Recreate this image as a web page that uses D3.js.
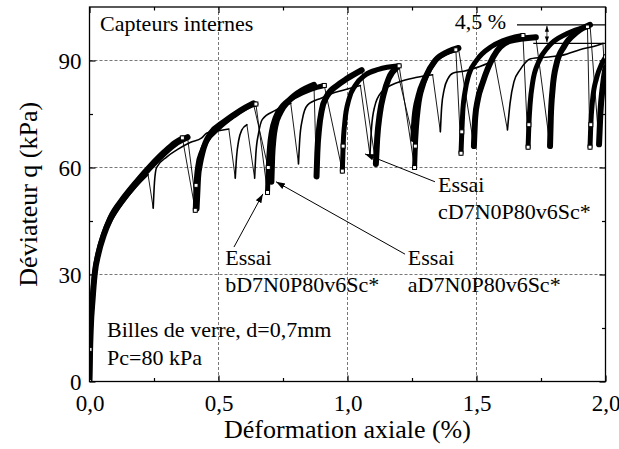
<!DOCTYPE html>
<html>
<head>
<meta charset="utf-8">
<script src="https://cdn.jsdelivr.net/npm/d3@7"></script>
<style>
  body { margin: 0; background: #fff; }
  svg { display: block; }
  text { font-family: "Liberation Serif", "Times New Roman", serif; fill: #000; }
</style>
</head>
<body>
<svg id="chart"></svg>
<script>
const width = 619
const height = 449
const marge = {top: 7, right: 13.5, bottom: 67.5, left: 89.5}

// ticks
const strainTicks = [0, 0.5, 1.0, 1.5, 2.0]
const strainMinor = [0.25, 0.75, 1.25, 1.75]
const qTicks = [0, 30, 60, 90]
const qMinor = [15, 45, 75]

// essais : chaque cycle = montée [déformation %, q kPa], puis chute jusqu'au cycle suivant
const testA = [
  [[0,0],[0.002,8],[0.005,15],[0.012,23],[0.02,30],[0.035,36],[0.055,41],[0.08,45.5],[0.13,51],[0.18,55.5],[0.235,60],[0.29,64],[0.34,67],[0.38,68.5]],
  [[0.415,48.5],[0.418,53],[0.421,57.3],[0.428,61],[0.437,64],[0.45,67],[0.47,69.6],[0.52,72.7],[0.585,76],[0.635,78]],
  [[0.705,56],[0.708,63],[0.713,68],[0.72,71.5],[0.74,75.5],[0.77,78.5],[0.81,81],[0.87,83.2]],
  [[0.88,57.5],[0.883,64],[0.89,71],[0.9,76],[0.92,80],[0.96,83],[1.0,85],[1.055,87.3]],
  [[1.11,61],[1.115,68],[1.125,75],[1.14,80.5],[1.16,85],[1.19,88]],
  [[1.255,68],[1.26,74],[1.275,80],[1.3,85],[1.34,90],[1.39,92.5],[1.43,93.5]],
  [[1.49,66],[1.495,74],[1.505,79],[1.525,84],[1.565,91],[1.63,95.5],[1.73,96.5]],
  [[1.785,66],[1.788,74],[1.795,82],[1.81,89],[1.84,94],[1.89,98],[1.94,100]],
  [[1.975,66.5],[1.98,75],[1.99,83],[2.0,88]]
]
const testB = [
  [[0,0],[0.002,9],[0.005,16],[0.012,24],[0.02,30.5],[0.035,36.5],[0.055,41.5],[0.08,46],[0.13,51.5],[0.18,56],[0.235,60.5],[0.29,64.5],[0.33,67],[0.36,68.3]],
  [[0.41,48],[0.413,55],[0.42,60.5],[0.435,64.5],[0.455,67.5],[0.5,71],[0.56,74.5],[0.62,77.2],[0.645,77.8]],
  [[0.69,53],[0.693,60],[0.698,66],[0.705,70],[0.72,74],[0.75,77.5],[0.8,80],[0.86,82],[0.91,83]],
  [[0.98,59],[0.983,66],[0.99,73],[1.005,79],[1.03,83],[1.07,86],[1.12,87.5],[1.2,88.5]],
  [[1.26,60],[1.263,66],[1.267,71],[1.275,77],[1.295,83.5],[1.33,89],[1.38,92],[1.42,93]],
  [[1.44,64],[1.443,70],[1.447,76],[1.455,81],[1.47,86],[1.5,90],[1.56,94],[1.62,96],[1.68,97]],
  [[1.70,65.7],[1.703,72],[1.708,78],[1.718,84],[1.74,89.5],[1.78,94],[1.85,97.5],[1.93,99.5]],
  [[1.94,65.7],[1.943,72],[1.95,79],[1.965,85],[1.985,89],[2.0,91]]
]
const testC = [
  [[0,0],[0.003,9],[0.008,17],[0.015,24],[0.025,30.5],[0.04,36],[0.06,41],[0.09,45.5],[0.13,50],[0.18,54.5],[0.227,58]],
  [[0.247,48.6],[0.252,56],[0.26,60],[0.3,63],[0.34,65],[0.39,67],[0.435,68.3],[0.455,69.7],[0.5,70.3],[0.54,70.8]],
  [[0.565,57],[0.57,63],[0.578,67.5],[0.59,70.5],[0.61,72]],
  [[0.64,57],[0.645,64],[0.655,69.5],[0.67,73.5],[0.72,76],[0.78,78]],
  [[0.81,61],[0.815,68],[0.825,73.5],[0.845,77.5],[0.9,79.5],[0.95,81],[1.0,82],[1.05,83]],
  [[1.087,63.5],[1.093,71],[1.105,77],[1.13,81],[1.2,84],[1.27,85.3],[1.33,86]],
  [[1.36,70],[1.365,77],[1.375,82],[1.39,85],[1.41,86.5],[1.45,87],[1.5,88],[1.57,90]],
  [[1.62,70.5],[1.63,78],[1.645,84],[1.67,87.5],[1.71,90.5],[1.78,91],[1.835,91.5],[1.9,93],[1.97,94.3],[1.99,94.8]],
  [[2.0,84]]
]

// annotations (coordonnées en unités du graphe)
const essaiLabels = [
  {x: 0.526, q: 32.7, l1: "Essai", l2: "bD7N0P80v6Sc*", from: [0.56, 37.7], to: [0.672, 52.6]},
  {x: 1.234, q: 32.7, l1: "Essai", l2: "aD7N0P80v6Sc*", from: [1.223, 35.7], to: [0.723, 56.0]},
  {x: 1.351, q: 53.1, l1: "Essai", l2: "cD7N0P80v6Sc*", from: [1.339, 56.0], to: [1.068, 63.8]}
]
const ecartLevels = [100, 94.8]

const innerW = width - marge.left - marge.right
const innerH = height - marge.top - marge.bottom

const svg = d3.select('#chart').attr('width', width).attr('height', height)
const g = svg.append('g').attr('transform', 'translate(' + marge.left + ',' + marge.top + ')')

const x = d3.scaleLinear().domain([0, 2.0]).range([0, innerW])
const y = d3.scaleLinear().domain([0, 105]).range([innerH, 0])

const fmt = d => d3.format('.1f')(d).replace('.', ',')

// grille pointillée
g.append('g').selectAll('line').data(strainTicks.slice(1, -1)).enter().append('line')
  .attr('x1', d => x(d)).attr('x2', d => x(d)).attr('y1', 0).attr('y2', innerH)
  .attr('stroke', '#777').attr('stroke-width', 1).attr('stroke-dasharray', '3,2')
g.append('g').selectAll('line').data(qTicks.slice(1)).enter().append('line')
  .attr('y1', d => y(d)).attr('y2', d => y(d)).attr('x1', 0).attr('x2', innerW)
  .attr('stroke', '#777').attr('stroke-width', 1).attr('stroke-dasharray', '3,2')

// axes (ticks vers l'intérieur)
const xAxis = g.append('g').attr('transform', 'translate(0,' + innerH + ')')
  .call(d3.axisBottom(x).tickValues(strainTicks).tickSize(-6).tickPadding(13).tickFormat(fmt))
const xTop = g.append('g')
  .call(d3.axisTop(x).tickValues(strainTicks).tickSize(-6).tickFormat(''))
const xMinB = g.append('g').attr('transform', 'translate(0,' + innerH + ')')
  .call(d3.axisBottom(x).tickValues(strainMinor).tickSize(-3.5).tickFormat(''))
const xMinT = g.append('g')
  .call(d3.axisTop(x).tickValues(strainMinor).tickSize(-3.5).tickFormat(''))
const yAxis = g.append('g')
  .call(d3.axisLeft(y).tickValues(qTicks).tickSize(-6).tickPadding(8).tickFormat(d3.format('d')))
const yRight = g.append('g').attr('transform', 'translate(' + innerW + ',0)')
  .call(d3.axisRight(y).tickValues(qTicks).tickSize(-6).tickFormat(''))
const yMinL = g.append('g')
  .call(d3.axisLeft(y).tickValues(qMinor).tickSize(-3.5).tickFormat(''))
const yMinR = g.append('g').attr('transform', 'translate(' + innerW + ',0)')
  .call(d3.axisRight(y).tickValues(qMinor).tickSize(-3.5).tickFormat(''))

;[xAxis, xTop, xMinB, xMinT, yAxis, yRight, yMinL, yMinR].forEach(a => {
  a.select('.domain').remove()
  a.selectAll('line').attr('stroke', '#000').attr('stroke-width', 1.2)
  a.selectAll('text').style('font-family', '"Liberation Serif", serif').style('font-size', '23px').attr('fill', '#000')
})
xAxis.selectAll('text').attr('dy', '0.71em')
yAxis.selectAll('text').attr('dy', '0.33em')

// courbes
svg.append('clipPath').attr('id', 'clip').append('rect')
  .attr('width', innerW).attr('height', innerH)
const plot = g.append('g').attr('clip-path', 'url(#clip)')
const line = d3.line().x(d => x(d[0])).y(d => y(d[1]))
const smooth = d3.line().x(d => x(d[0])).y(d => y(d[1])).curve(d3.curveMonotoneX)

function drawTest(cycles, bandWidth, withMarkers) {
  const grp = plot.append('g')
  // chutes brusques (peu de points) : traits fins
  for (let i = 0; i < cycles.length - 1; i++) {
    const a = cycles[i][cycles[i].length - 1]
    const b = cycles[i + 1][0]
    grp.append('path').attr('d', line([a, b])).attr('fill', 'none')
      .attr('stroke', '#000').attr('stroke-width', 0.9)
  }
  // montées (points serrés) : bande épaisse
  grp.selectAll('.cycle').data(cycles.filter(c => c.length > 1)).enter().append('path')
    .attr('d', smooth).attr('fill', 'none').attr('stroke', '#000')
    .attr('stroke-width', bandWidth).attr('stroke-linejoin', 'round').attr('stroke-linecap', 'round')
  if (withMarkers) {
    // carrés visibles au pied et au sommet de chaque montée
    const pts = cycles.flatMap(c => c.length > 2 ? [c[0], c[1], c[c.length - 1]] : c)
    grp.selectAll('.pt').data(pts).enter().append('rect')
      .attr('x', d => x(d[0]) - 2).attr('y', d => y(d[1]) - 2)
      .attr('width', 4).attr('height', 4)
      .attr('fill', '#fff').attr('stroke', '#000').attr('stroke-width', 1)
  }
}
drawTest(testC, 1.6, false)
drawTest(testA, 6, false)
drawTest(testB, 5, true)

// cadre
g.append('rect').attr('width', innerW).attr('height', innerH)
  .attr('fill', 'none').attr('stroke', '#000').attr('stroke-width', 1.3)

// flèches
const defs = svg.append('defs')
defs.append('marker').attr('id', 'arrow').attr('viewBox', '0 0 10 10')
  .attr('refX', 10).attr('refY', 5).attr('markerWidth', 9).attr('markerHeight', 9)
  .attr('markerUnits', 'userSpaceOnUse').attr('orient', 'auto-start-reverse')
  .append('path').attr('d', 'M0,1.5 L10,5 L0,8.5 Z').attr('fill', '#000')
defs.append('marker').attr('id', 'arrowS').attr('viewBox', '0 0 10 10')
  .attr('refX', 10).attr('refY', 5).attr('markerWidth', 6).attr('markerHeight', 6)
  .attr('markerUnits', 'userSpaceOnUse').attr('orient', 'auto-start-reverse')
  .append('path').attr('d', 'M0,1.5 L10,5 L0,8.5 Z').attr('fill', '#000')

const ann = g.append('g').style('font-size', '22px')
essaiLabels.forEach(e => {
  ann.append('line')
    .attr('x1', x(e.from[0])).attr('y1', y(e.from[1]))
    .attr('x2', x(e.to[0])).attr('y2', y(e.to[1]))
    .attr('stroke', '#000').attr('stroke-width', 1).attr('marker-end', 'url(#arrow)')
  ann.append('text').attr('x', x(e.x)).attr('y', y(e.q)).text(e.l1)
  ann.append('text').attr('x', x(e.x)).attr('y', y(e.q) + 27).text(e.l2)
})

ann.append('text').attr('x', x(0.041)).attr('y', y(98.3)).text('Capteurs internes')
ann.append('text').attr('x', x(0.068)).attr('y', y(12.5)).text('Billes de verre, d=0,7mm')
ann.append('text').attr('x', x(0.068)).attr('y', y(4.6)).text('Pc=80 kPa')

// écart de 4,5 %
ann.append('line').attr('x1', x(1.657)).attr('x2', x(2.0))
  .attr('y1', y(ecartLevels[0])).attr('y2', y(ecartLevels[0]))
  .attr('stroke', '#000').attr('stroke-width', 1.3)
ann.append('line').attr('x1', x(1.72)).attr('x2', x(2.0))
  .attr('y1', y(ecartLevels[1])).attr('y2', y(ecartLevels[1]))
  .attr('stroke', '#000').attr('stroke-width', 1.3)
ann.append('line').attr('x1', x(1.773)).attr('x2', x(1.773))
  .attr('y1', y(ecartLevels[0]) + 1).attr('y2', y(ecartLevels[1]) - 1)
  .attr('stroke', '#000').attr('stroke-width', 0.8)
  .attr('marker-start', 'url(#arrowS)').attr('marker-end', 'url(#arrowS)')
ann.append('text').attr('x', x(1.416)).attr('y', y(98.8)).text('4,5 %')

// titres des axes
svg.append('text').attr('x', marge.left + innerW / 2).attr('y', 438)
  .attr('text-anchor', 'middle').style('font-size', '26px').text('Déformation axiale (%)')
svg.append('text').attr('transform', 'translate(37,' + (marge.top + innerH / 2) + ') rotate(-90)')
  .attr('text-anchor', 'middle').style('font-size', '26px').text('Déviateur q (kPa)')
</script>
</body>
</html>
